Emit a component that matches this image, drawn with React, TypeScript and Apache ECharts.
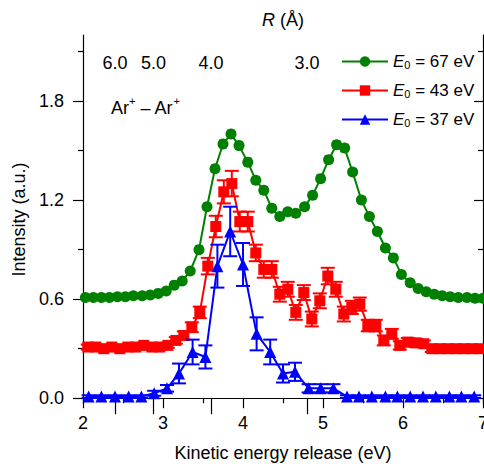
import React, { useEffect, useRef } from 'react';
import * as echarts from 'echarts';

// ---- data ----
const greenX = [2.03, 2.13, 2.23, 2.33, 2.43, 2.53, 2.63, 2.74, 2.84, 2.94, 3.04, 3.14, 3.24, 3.34, 3.45, 3.55, 3.65, 3.75, 3.85, 3.95, 4.06, 4.16, 4.26, 4.36, 4.46, 4.56, 4.66, 4.77, 4.87, 4.97, 5.07, 5.17, 5.27, 5.37, 5.48, 5.58, 5.68, 5.78, 5.88, 5.98, 6.09, 6.19, 6.29, 6.39, 6.49, 6.59, 6.69, 6.80, 6.90, 7.00];
const greenY = [0.61, 0.61, 0.61, 0.61, 0.615, 0.615, 0.62, 0.62, 0.625, 0.635, 0.65, 0.685, 0.71, 0.77, 0.90, 1.16, 1.39, 1.54, 1.60, 1.53, 1.43, 1.32, 1.26, 1.15, 1.10, 1.13, 1.12, 1.16, 1.23, 1.33, 1.445, 1.535, 1.515, 1.37, 1.20, 1.10, 1.01, 0.91, 0.85, 0.75, 0.70, 0.665, 0.645, 0.63, 0.62, 0.615, 0.61, 0.61, 0.605, 0.605];
const greenErr = [0.012, 0.012, 0.012, 0.012, 0.012, 0.012, 0.012, 0.012, 0.012, 0.012, 0.012, 0.012, 0.012, 0.014, 0.015, 0.018, 0.02, 0.02, 0.02, 0.02, 0.02, 0.018, 0.018, 0.016, 0.016, 0.016, 0.016, 0.016, 0.018, 0.018, 0.02, 0.02, 0.02, 0.018, 0.018, 0.016, 0.015, 0.015, 0.014, 0.014, 0.013, 0.012, 0.012, 0.012, 0.012, 0.012, 0.012, 0.012, 0.012, 0.012];

const redX = [2.06, 2.16, 2.26, 2.36, 2.46, 2.56, 2.66, 2.76, 2.86, 2.96, 3.06, 3.16, 3.26, 3.36, 3.46, 3.56, 3.66, 3.76, 3.86, 3.96, 4.06, 4.16, 4.26, 4.36, 4.46, 4.56, 4.66, 4.76, 4.86, 4.96, 5.06, 5.16, 5.26, 5.36, 5.46, 5.56, 5.66, 5.76, 5.86, 5.96, 6.06, 6.16, 6.26, 6.36, 6.46, 6.56, 6.66, 6.76, 6.86, 6.96];
const redY = [0.31, 0.31, 0.30, 0.31, 0.30, 0.31, 0.31, 0.32, 0.31, 0.31, 0.32, 0.35, 0.38, 0.43, 0.52, 0.80, 1.04, 1.25, 1.30, 1.07, 1.07, 0.88, 0.78, 0.78, 0.63, 0.66, 0.52, 0.64, 0.48, 0.59, 0.74, 0.66, 0.51, 0.55, 0.57, 0.44, 0.44, 0.35, 0.39, 0.32, 0.34, 0.335, 0.33, 0.30, 0.30, 0.30, 0.30, 0.30, 0.30, 0.30];
const redErr = [0.015, 0.015, 0.015, 0.015, 0.015, 0.015, 0.015, 0.015, 0.015, 0.015, 0.015, 0.02, 0.025, 0.03, 0.035, 0.05, 0.065, 0.07, 0.077, 0.06, 0.06, 0.05, 0.05, 0.05, 0.045, 0.045, 0.045, 0.045, 0.045, 0.045, 0.05, 0.045, 0.045, 0.04, 0.04, 0.035, 0.035, 0.03, 0.03, 0.025, 0.025, 0.025, 0.02, 0.02, 0.02, 0.02, 0.02, 0.02, 0.02, 0.02];

const blueX = [2.07, 2.23, 2.40, 2.57, 2.73, 2.89, 3.05, 3.20, 3.37, 3.53, 3.68, 3.84, 4.00, 4.17, 4.34, 4.50, 4.65, 4.82, 4.97, 5.13, 5.30, 5.45, 5.61, 5.78, 5.93, 6.09, 6.25, 6.41, 6.58, 6.73, 6.89];
const blueY = [0.01, 0.01, 0.01, 0.01, 0.01, 0.03, 0.06, 0.15, 0.28, 0.25, 0.80, 1.01, 0.81, 0.39, 0.28, 0.15, 0.16, 0.06, 0.06, 0.06, 0.01, 0.01, 0.01, 0.01, 0.01, 0.01, 0.01, 0.01, 0.01, 0.01, 0.01];
const blueErr = [0.008, 0.008, 0.008, 0.008, 0.008, 0.015, 0.02, 0.06, 0.075, 0.07, 0.13, 0.15, 0.13, 0.10, 0.075, 0.055, 0.055, 0.025, 0.025, 0.025, 0.008, 0.008, 0.008, 0.008, 0.008, 0.008, 0.008, 0.008, 0.008, 0.008, 0.008];

const seriesNames = ['E0 = 67 eV', 'E0 = 43 eV', 'E0 = 37 eV'];
const seriesColors = ['#008000', '#ff0000', '#0000ff'];

const yLabelTicks = [0, 0.6, 1.2, 1.8];
const yMinorTicks = [0.3, 0.9, 1.5, 2.1];
const rTicks = [6.0, 5.0, 4.0, 3.0]; // R in Å, placed at KER = 14.4 / R
const topMinorTicks = [3, 4, 4.5, 5, 5.5, 6, 6.5];

const FONT = '"Liberation Sans", Arial, Helvetica, sans-serif';

function pairs(xs: number[], ys: number[]) {
  return xs.map((x, i) => [x, ys[i]]);
}
function errData(xs: number[], ys: number[], es: number[]) {
  return xs.map((x, i) => [x, ys[i] - es[i], ys[i] + es[i]]);
}

function errorSeries(name: string, data: number[][], color: string, cap: number, z: number) {
  return {
    type: 'custom',
    name,
    xAxisIndex: 0,
    yAxisIndex: 0,
    z,
    data,
    encode: { x: 0, y: [1, 2] },
    renderItem: (params: any, api: any) => {
      const x = api.value(0);
      const lo = api.coord([x, api.value(1)]);
      const hi = api.coord([x, api.value(2)]);
      const style = { stroke: color, lineWidth: 2 };
      return {
        type: 'group',
        children: [
          { type: 'line', shape: { x1: lo[0], y1: lo[1], x2: hi[0], y2: hi[1] }, style },
          { type: 'line', shape: { x1: lo[0] - cap, y1: lo[1], x2: lo[0] + cap, y2: lo[1] }, style },
          { type: 'line', shape: { x1: hi[0] - cap, y1: hi[1], x2: hi[0] + cap, y2: hi[1] }, style },
        ],
      };
    },
  };
}

export default function App() {
  const ref = useRef<HTMLDivElement>(null);
  useEffect(() => {
    if (!ref.current) return;
    const chart = echarts.init(ref.current, undefined, { renderer: 'svg' });
    const yMin = -0.035;
    const yMax = 2.2;
    const axisLine = { show: true, lineStyle: { color: '#000', width: 1.2 } };
    const option: any = {
      animation: false,
      backgroundColor: '#fff',
      textStyle: { fontFamily: FONT },
      grid: { left: 83, right: 1, top: 35, bottom: 60, containLabel: false, outerBoundsMode: 'none' },
      legend: {
        data: seriesNames,
        orient: 'vertical',
        left: 336,
        top: 48,
        itemWidth: 46,
        itemHeight: 13,
        itemGap: 12,
        formatter: (name: string) => `{i|E}{s|0}{t|${name.slice(2)}}`,
        textStyle: {
          fontFamily: FONT,
          color: '#000',
          fontSize: 17,
          rich: {
            i: { fontStyle: 'italic', fontSize: 17, fontFamily: FONT, color: '#000', lineHeight: 17, verticalAlign: 'middle' },
            s: { fontSize: 11, fontFamily: FONT, color: '#000', lineHeight: 17, verticalAlign: 'bottom' },
            t: { fontSize: 17, fontFamily: FONT, color: '#000', lineHeight: 17, verticalAlign: 'middle' },
          },
        },
      },
      xAxis: [
        {
          type: 'value',
          position: 'bottom',
          min: 2,
          max: 7,
          interval: 1,
          axisLine,
          axisTick: { show: true, inside: false, length: 10, lineStyle: { color: '#000', width: 1.2 } },
          minorTick: { show: true, splitNumber: 2, length: 5, lineStyle: { color: '#000', width: 1.2 } },
          splitLine: { show: false },
          axisLabel: { fontSize: 18, color: '#000', fontFamily: FONT, margin: 10 },
          name: 'Kinetic energy release (eV)',
          nameLocation: 'middle',
          nameGap: 40,
          nameTextStyle: { fontSize: 18, color: '#000', fontFamily: FONT },
        },
        {
          type: 'value',
          position: 'top',
          min: 2,
          max: 7,
          axisLine,
          splitLine: { show: false },
          axisTick: { show: true, inside: true, length: 16, customValues: rTicks.map((r) => 14.4 / r), lineStyle: { color: '#000', width: 1.2 } },
          axisLabel: {
            show: true,
            inside: true,
            margin: 19,
            customValues: rTicks.map((r) => 14.4 / r),
            formatter: (v: number) => (14.4 / v).toFixed(1),
            fontSize: 18,
            color: '#000',
            fontFamily: FONT,
          },
          name: '{i|R}{n| (Å)}',
          nameLocation: 'middle',
          nameGap: 6,
          nameTextStyle: {
            fontSize: 18,
            color: '#000',
            rich: {
              i: { fontStyle: 'italic', fontSize: 18, fontFamily: FONT, color: '#000' },
              n: { fontSize: 18, fontFamily: FONT, color: '#000' },
            },
          },
        },
        {
          type: 'value',
          position: 'top',
          min: 2,
          max: 7,
          axisLine: { show: false },
          splitLine: { show: false },
          axisTick: { show: true, inside: true, length: 3, customValues: topMinorTicks, lineStyle: { color: '#000', width: 1 } },
          axisLabel: { show: false },
        },
      ],
      yAxis: [
        {
          type: 'value',
          position: 'left',
          min: yMin,
          max: yMax,
          axisLine,
          splitLine: { show: false },
          axisTick: { show: true, inside: false, length: 10, customValues: yLabelTicks, lineStyle: { color: '#000', width: 1.2 } },
          axisLabel: {
            customValues: yLabelTicks,
            formatter: (v: number) => v.toFixed(1),
            fontSize: 18,
            color: '#000',
            fontFamily: FONT,
            margin: 19,
          },
          name: 'Intensity (a.u.)',
          nameLocation: 'middle',
          nameGap: 52,
          nameTextStyle: { fontSize: 18, color: '#000', fontFamily: FONT },
        },
        {
          type: 'value',
          position: 'left',
          min: yMin,
          max: yMax,
          axisLine: { show: false },
          splitLine: { show: false },
          axisTick: { show: true, inside: false, length: 5, customValues: yMinorTicks, lineStyle: { color: '#000', width: 1.2 } },
          axisLabel: { show: false },
        },
        {
          type: 'value',
          position: 'right',
          min: yMin,
          max: yMax,
          axisLine,
          splitLine: { show: false },
          axisTick: { show: true, inside: true, length: 9, customValues: yLabelTicks, lineStyle: { color: '#000', width: 1.2 } },
          axisLabel: { show: false },
        },
        {
          type: 'value',
          position: 'right',
          min: yMin,
          max: yMax,
          axisLine: { show: false },
          splitLine: { show: false },
          axisTick: { show: true, inside: true, length: 5, customValues: yMinorTicks, lineStyle: { color: '#000', width: 1.2 } },
          axisLabel: { show: false },
        },
      ],
      graphic: [
        {
          type: 'text',
          left: 111,
          top: 95,
          style: {
            text: '{a|Ar}{s|+}{a| – Ar}{s|+}',
            rich: {
              a: { fontSize: 18, fontFamily: FONT, fill: '#000', lineHeight: 22, verticalAlign: 'bottom' },
              s: { fontSize: 11, fontFamily: FONT, fill: '#000', lineHeight: 22, verticalAlign: 'top' },
            },
          },
        },
      ],
      series: [
        errorSeries('errG', errData(greenX, greenY, greenErr), seriesColors[0], 4, 2),
        {
          type: 'line',
          name: seriesNames[0],
          data: pairs(greenX, greenY),
          xAxisIndex: 0,
          yAxisIndex: 0,
          symbol: 'circle',
          symbolSize: 11,
          z: 3,
          lineStyle: { color: seriesColors[0], width: 2 },
          itemStyle: { color: seriesColors[0] },
        },
        errorSeries('errR', errData(redX, redY, redErr), seriesColors[1], 7, 4),
        {
          type: 'line',
          name: seriesNames[1],
          data: pairs(redX, redY),
          xAxisIndex: 0,
          yAxisIndex: 0,
          symbol: 'rect',
          symbolSize: 11,
          z: 5,
          lineStyle: { color: seriesColors[1], width: 2 },
          itemStyle: { color: seriesColors[1] },
        },
        errorSeries('errB', errData(blueX, blueY, blueErr), seriesColors[2], 7, 6),
        {
          type: 'line',
          name: seriesNames[2],
          data: pairs(blueX, blueY),
          xAxisIndex: 0,
          yAxisIndex: 0,
          symbol: 'triangle',
          symbolSize: 12,
          z: 7,
          lineStyle: { color: seriesColors[2], width: 2 },
          itemStyle: { color: seriesColors[2] },
        },
      ],
    };
    chart.setOption(option);
    return () => chart.dispose();
  }, []);
  return <div ref={ref} style={{ position: 'absolute', left: 0, top: 0, width: 484, height: 464 }} />;
}
